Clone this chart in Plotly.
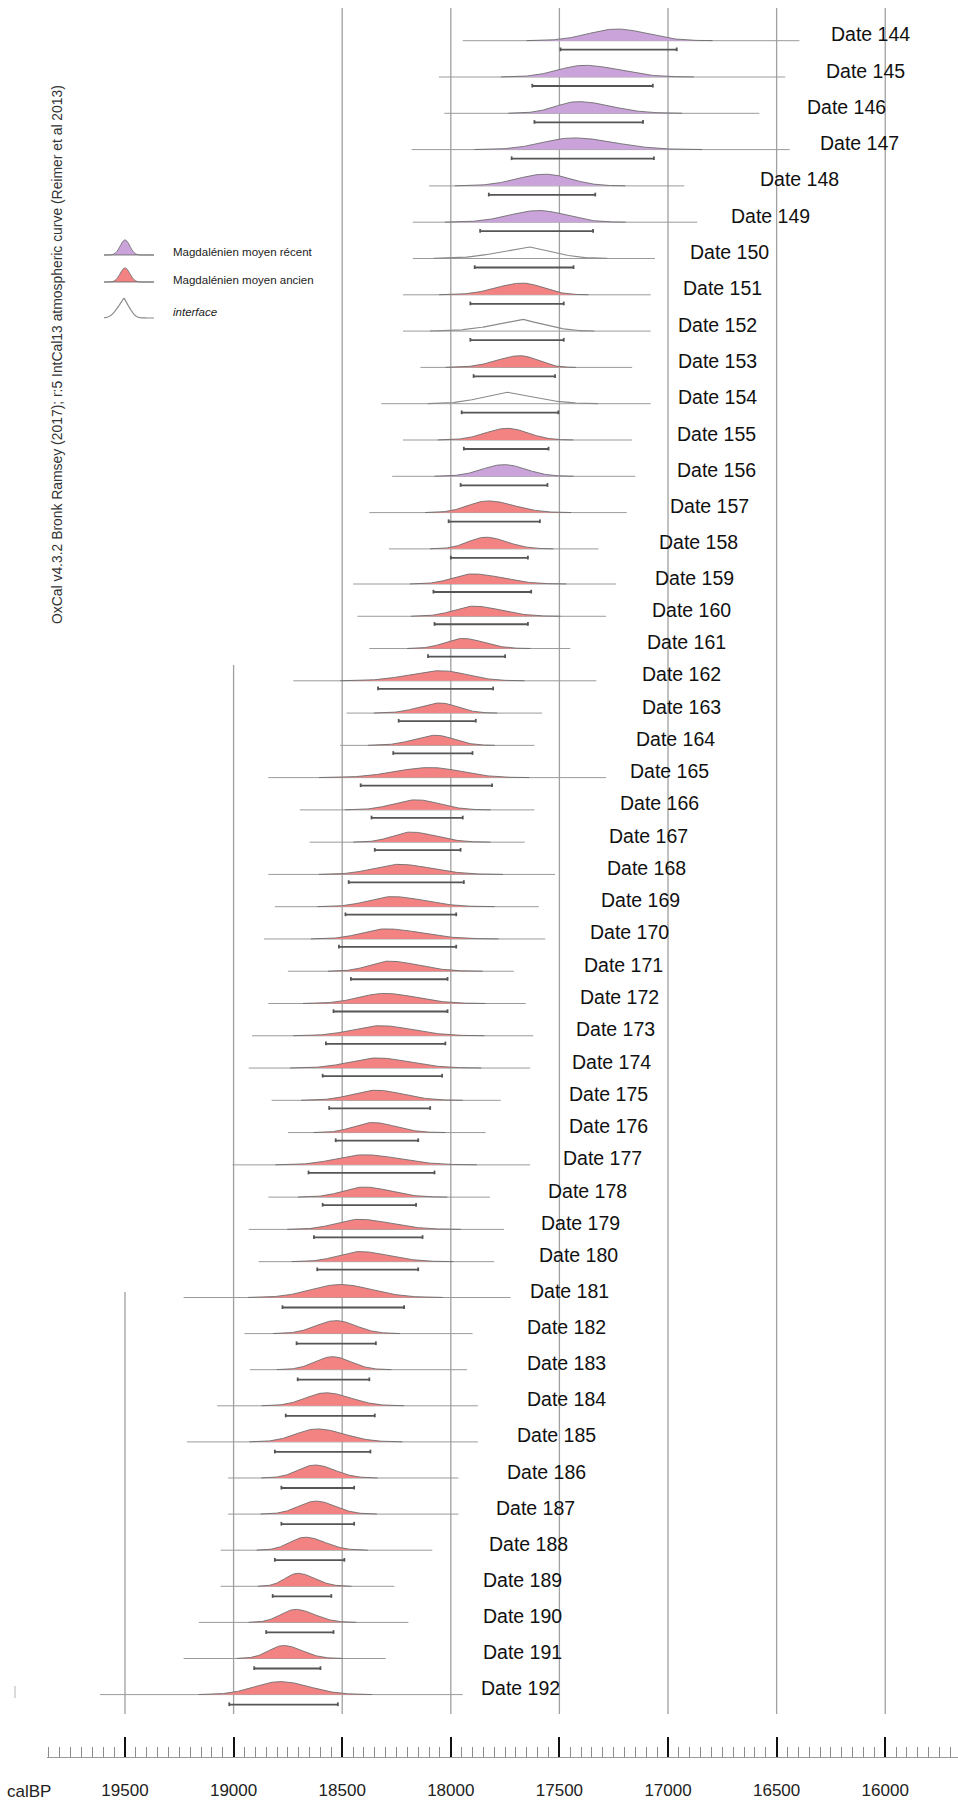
import numpy as np
import plotly.graph_objects as go

W, H = 958, 1809

# ---------------------------------------------------------------- data (cal BP)
dates = list(range(144, 193))
phase = (["recent"] * 6
         + ["interface", "ancien", "interface", "ancien", "interface", "ancien", "recent"]
         + ["ancien"] * 36)

# extent of the unmodelled (prior) likelihood line
prior_old = [17945, 18055, 18030, 18180, 18100, 18175, 18175, 18220, 18220, 18140,
             18320, 18220, 18270, 18375, 18285, 18450, 18430, 18375, 18725, 18480,
             18510, 18840, 18695, 18650, 18840, 18810, 18860, 18750, 18840, 18915,
             18930, 18825, 18750, 19005, 18840, 18930, 18885, 19230, 18950, 18925,
             19075, 19215, 19025, 19025, 19060, 19060, 19160, 19230, 19615]
prior_young = [16395, 16460, 16580, 16440, 16925, 16865, 17060, 17080, 17080, 17165,
               17080, 17165, 17150, 17190, 17320, 17240, 17285, 17450, 17330, 17580,
               17615, 17285, 17615, 17660, 17520, 17595, 17565, 17710, 17655, 17620,
               17635, 17770, 17840, 17635, 17820, 17755, 17800, 17725, 17900, 17925,
               17875, 17875, 17965, 17965, 18085, 18260, 18195, 18300, 17945]

# modelled posterior: mode and 95.4 % range
mode = [17235, 17385, 17415, 17435, 17565, 17595, 17640, 17670, 17665, 17680,
        17745, 17740, 17755, 17830, 17840, 17900, 17895, 17945, 18045, 18050,
        18070, 18095, 18160, 18185, 18240, 18270, 18300, 18285, 18305, 18325,
        18340, 18345, 18360, 18400, 18400, 18425, 18420, 18510, 18530, 18545,
        18575, 18615, 18625, 18620, 18670, 18705, 18715, 18770, 18785]
range_old = [17495, 17625, 17615, 17720, 17825, 17865, 17890, 17910, 17910, 17895,
             17950, 17940, 17955, 18010, 18000, 18080, 18075, 18105, 18335, 18240,
             18265, 18415, 18365, 18350, 18470, 18485, 18515, 18460, 18540, 18575,
             18590, 18560, 18530, 18655, 18590, 18630, 18615, 18775, 18710, 18705,
             18760, 18810, 18780, 18780, 18810, 18820, 18850, 18905, 19020]
range_young = [16960, 17070, 17115, 17065, 17335, 17345, 17435, 17480, 17480, 17520,
               17505, 17550, 17555, 17590, 17645, 17630, 17645, 17750, 17805, 17885,
               17900, 17810, 17945, 17955, 17940, 17975, 17975, 18015, 18015, 18025,
               18040, 18095, 18150, 18075, 18160, 18130, 18150, 18215, 18345, 18375,
               18350, 18370, 18445, 18445, 18490, 18550, 18540, 18600, 18520]

# where each "Date n" name starts
label_at = [16260, 16280, 16370, 16310, 16585, 16720, 16910, 16940, 16965, 16965,
            16965, 16970, 16970, 17000, 17050, 17070, 17085, 17105, 17130, 17130,
            17155, 17185, 17230, 17280, 17290, 17320, 17370, 17395, 17415, 17435,
            17450, 17465, 17465, 17495, 17560, 17595, 17605, 17645, 17660, 17660,
            17660, 17705, 17750, 17800, 17835, 17860, 17860, 17860, 17870]

grid_years = [19500, 19000, 18500, 18000, 17500, 17000, 16500, 16000]

phase_names = {"recent": "Magdalénien moyen récent",
               "ancien": "Magdalénien moyen ancien",
               "interface": "interface"}

# ---------------------------------------------------------------- layout
FILL = {"recent": "#c9a3d9", "ancien": "#f38383"}
OUTLINE = "rgba(105,105,105,0.85)"
PRIOR_C = "#9b9b9b"
GRID_C = "#a0a0a0"
BRACKET_C = "#555555"
SANS = "Liberation Sans, Arial, sans-serif"
NARROW = "Liberation Sans Narrow, Arial Narrow, Liberation Sans, Arial, sans-serif"

# three stacked OxCal blocks: first date, first baseline (px), pitch, curve height, bracket drop
BLOCKS = [(144, 40.7, 36.3, 11.7, 9.0),
          (159, 584.0, 32.27, 10.1, 8.0),
          (181, 1297.5, 36.1, 13.0, 10.0)]
# top end of each vertical grid line (px)
GRID_TOP = {19500: 1292, 19000: 665}
GRID_DEFAULT_TOP, GRID_BOTTOM = 8, 1714
AXIS_Y = 1757
X_LEFT_PX = 47
X_RANGE = [19859, 15665]

base_y, amp, drop = [], [], []
for d in dates:
    blk = [b for b in BLOCKS if b[0] <= d][-1]
    base_y.append(blk[1] + (d - blk[0]) * blk[2])
    amp.append(blk[3])
    drop.append(blk[4])


def density(m, old, young, kind, n=140):
    if kind == "interface":
        wo, wy = 1.1 * (old - m), 1.1 * (m - young)
        xs = np.linspace(m + 1.6 * wo, m - 1.6 * wy, n)
        z = np.where(xs > m, (xs - m) / wo, (m - xs) / wy)
        k = 5.0
        f = np.log1p(np.exp(k * (1 - z))) / np.log1p(np.exp(k))
    else:
        so, sy = (old - m) / 2.0, (m - young) / 2.0
        xs = np.linspace(m + 3.2 * so, m - 3.2 * sy, n)
        z = np.where(xs > m, (xs - m) / so, (m - xs) / sy)
        f = np.exp(-0.5 * z * z)
    return xs, f


fig = go.Figure()

# prior lines
px_, py_ = [], []
for i in range(len(dates)):
    px_ += [prior_old[i], prior_young[i], None]
    py_ += [base_y[i], base_y[i], None]
fig.add_trace(go.Scatter(x=px_, y=py_, mode="lines", hoverinfo="skip",
                         line=dict(color=PRIOR_C, width=1), showlegend=False))

# posterior curves, one trace per phase
for kind in ["recent", "ancien", "interface"]:
    cx, cy = [], []
    for i in range(len(dates)):
        if phase[i] != kind:
            continue
        xs, f = density(mode[i], range_old[i], range_young[i], kind)
        cx += list(xs) + [None]
        cy += list(base_y[i] - amp[i] * f) + [None]
    if kind == "interface":
        fig.add_trace(go.Scatter(x=cx, y=cy, mode="lines", name=phase_names[kind],
                                 line=dict(color="#8a8a8a", width=1.2),
                                 showlegend=False))
    else:
        fig.add_trace(go.Scatter(x=cx, y=cy, mode="lines", name=phase_names[kind],
                                 fill="toself", fillcolor=FILL[kind],
                                 line=dict(color=OUTLINE, width=1),
                                 showlegend=False))

# 95.4 % range brackets
bx, by = [], []
for i in range(len(dates)):
    yb = base_y[i] + drop[i]
    bx += [range_old[i], range_old[i], None, range_old[i], range_young[i], None,
           range_young[i], range_young[i], None]
    by += [yb - 2.2, yb + 1.5, None, yb, yb, None, yb - 2.2, yb + 1.5, None]
fig.add_trace(go.Scatter(x=bx, y=by, mode="lines", hoverinfo="skip",
                         line=dict(color=BRACKET_C, width=1.8), showlegend=False))

# names
annotations = []
for i, d in enumerate(dates):
    annotations.append(dict(x=label_at[i], y=base_y[i] - 6.5, xref="x", yref="y",
                            text=f"Date {d}", showarrow=False, xanchor="left",
                            yanchor="middle",
                            font=dict(family=SANS, size=19.5, color="#111")))

# vertical grid lines
shapes = []
for g in grid_years:
    shapes.append(dict(type="line", xref="x", yref="y", x0=g, x1=g,
                       y0=GRID_TOP.get(g, GRID_DEFAULT_TOP), y1=GRID_BOTTOM,
                       line=dict(color=GRID_C, width=1.3), layer="below"))

# small stray tick at the far left
shapes.append(dict(type="line", xref="paper", yref="paper",
                   x0=15 / W, x1=15 / W, y0=1 - 1686 / H, y1=1 - 1698 / H,
                   line=dict(color="#b5b5b5", width=1)))


# key (legend) glyphs
def glyph_path(x0, x1, xc, base, h, sl, sr, soft_triangle, closed):
    xs = np.linspace(x0, x1, 80)
    z = np.where(xs < xc, (xc - xs) / sl, (xs - xc) / sr)
    if soft_triangle:
        k = 5.0
        f = np.log1p(np.exp(k * (1 - z))) / np.log1p(np.exp(k))
    else:
        f = np.exp(-0.5 * z * z)
    ys = base - h * f
    pts = " L".join(f"{x / W:.5f},{1 - y / H:.5f}" for x, y in zip(xs, ys))
    return "M" + pts + (" Z" if closed else "")


shapes.append(dict(type="path", xref="paper", yref="paper",
                   path=glyph_path(104, 154, 125, 255, 15, 4.8, 4.8, False, True),
                   fillcolor=FILL["recent"], line=dict(color=OUTLINE, width=1)))
shapes.append(dict(type="path", xref="paper", yref="paper",
                   path=glyph_path(104, 154, 125, 282, 14, 4.8, 4.8, False, True),
                   fillcolor=FILL["ancien"], line=dict(color=OUTLINE, width=1)))
shapes.append(dict(type="path", xref="paper", yref="paper",
                   path=glyph_path(104, 154, 124, 318, 20, 13, 11, True, False),
                   line=dict(color="#8a8a8a", width=1.2)))

for txt, yy, italic in [(phase_names["recent"], 252.5, False),
                        (phase_names["ancien"], 280, False),
                        (phase_names["interface"], 312, True)]:
    annotations.append(dict(x=171 / W, y=1 - yy / H, xref="paper", yref="paper",
                            text=f"<i>{txt}</i>" if italic else txt,
                            showarrow=False, xanchor="left", yanchor="middle",
                            font=dict(family=NARROW, size=11.5, color="#222")))

# software / calibration note
annotations.append(dict(x=57 / W, y=1 - 355 / H, xref="paper", yref="paper",
                        text="OxCal v4.3.2 Bronk Ramsey (2017); r:5 IntCal13 atmospheric curve (Reimer et al 2013)",
                        textangle=-90, showarrow=False, xanchor="center", yanchor="middle",
                        font=dict(family=SANS, size=13.9, color="#333")))

# axis unit
annotations.append(dict(x=5 / W, y=1 - 1791 / H, xref="paper", yref="paper",
                        text="calBP", showarrow=False, xanchor="left", yanchor="middle",
                        font=dict(family=NARROW, size=17, color="#222")))

fig.update_layout(
    width=W, height=H,
    margin=dict(l=0, r=0, t=0, b=0),
    paper_bgcolor="white", plot_bgcolor="white",
    showlegend=False,
    shapes=shapes, annotations=annotations,
    xaxis=dict(domain=[X_LEFT_PX / W, 1], range=X_RANGE, anchor="free",
               position=(H - AXIS_Y) / H, side="bottom",
               showgrid=False, zeroline=False,
               showline=True, linecolor="#9a9a9a", linewidth=1,
               tickmode="linear", tick0=0, dtick=500, tickformat="d",
               ticks="inside", ticklen=20, tickwidth=2, tickcolor="#111",
               ticklabelstandoff=18,
               tickfont=dict(family=NARROW, size=17, color="#222"),
               minor=dict(ticks="inside", ticklen=10, tickwidth=1, tickcolor="#8a8a8a",
                          tick0=0, dtick=50, showgrid=False)),
    yaxis=dict(domain=[0, 1], range=[H, 0], visible=False, showgrid=False,
               zeroline=False),
)

fig.write_html("out.html")
